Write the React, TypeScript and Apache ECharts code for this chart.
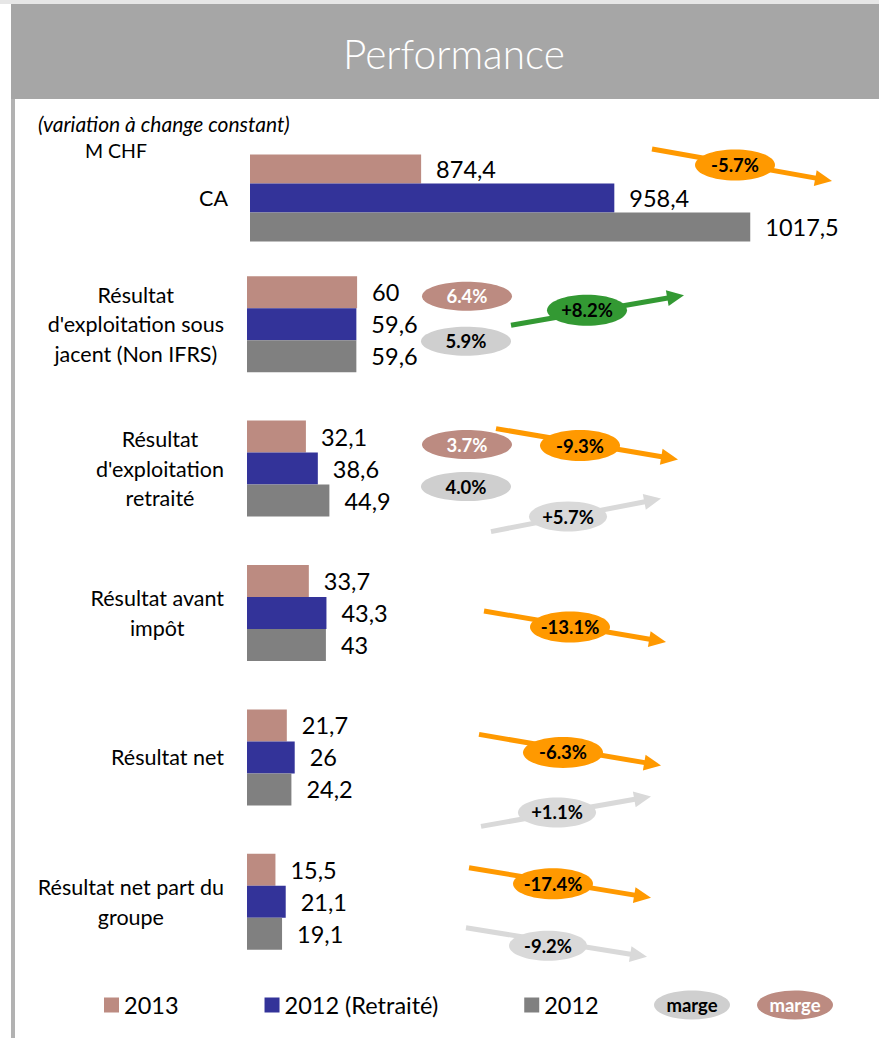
import React, { useEffect, useRef } from "react";
import * as echarts from "echarts";

// ---------- data ----------
const categoriesTop = ["CA"];
const categories = [
  "Résultat\nd'exploitation sous\njacent (Non IFRS)",
  "Résultat\nd'exploitation\nretraité",
  "Résultat avant\nimpôt",
  "Résultat net",
  "Résultat net part du\ngroupe",
];
const seriesNames = ["2013", "2012 (Retraité)", "2012"];
const caValues = [874.4, 958.4, 1017.5];
const values2013 = [60, 32.1, 33.7, 21.7, 15.5];
const values2012R = [59.6, 38.6, 43.3, 26, 21.1];
const values2012 = [59.6, 44.9, 43, 24.2, 19.1];
// index 0 = CA, then the five categories
const variationMain = ["-5.7%", "+8.2%", "-9.3%", "-13.1%", "-6.3%", "-17.4%"];
const variationOld: (string | null)[] = [null, null, "+5.7%", null, "+1.1%", "-9.2%"];
const marge2013: (string | null)[] = [null, "6.4%", "3.7%", null, null, null];
const marge2012: (string | null)[] = [null, "5.9%", "4.0%", null, null, null];
const margeLegend = "marge";
const titleText = "Performance";
const subtitleText = "(variation à change constant)";
const unitText = "M CHF";

// ---------- layout (annotation positions relative to each row centre) ----------
// [x0, dy0, x1, dy1, ellipseX, ellipseDy]
const mainArrowLayout = [
  [652, -49, 832, -17, 735, -33],
  [511, 1, 684, -29, 587, -14],
  [496, -40, 678, -9, 580, -23],
  [484, -2, 666, 29, 570, 14],
  [479, -23, 661, 8, 563, -5],
  [469, -34, 651, -4, 553, -18],
];
const oldArrowLayout = [
  null,
  null,
  [491, 63, 661, 30, 568, 48],
  null,
  [481, 69, 651, 39, 557, 55],
  [466, 26, 647, 55, 548, 44],
];
const margeX = 467;
const marge2013Dy = [0, -28, -24, 0, 0, 0];
const marge2012Dy = [0, 17, 18, 0, 0, 0];

const COLORS = ["#BC8B81", "#333399", "#808080"];
const ORANGE = "#FF9900";
const GREEN = "#339933";
const LIGHT = "#D9D9D9";
const MARGE_GRAY = "#CFCFCF";
const FONT = "Lato";

function fmt(v: number) {
  return String(v).replace(".", ",");
}

function arrow(x0: number, y0: number, x1: number, y1: number, color: string, z: number) {
  const dx = x1 - x0;
  const dy = y1 - y0;
  const L = Math.hypot(dx, dy);
  const ux = dx / L;
  const uy = dy / L;
  const hl = 17;
  const hw = 8;
  const bx = x1 - ux * hl;
  const by = y1 - uy * hl;
  const px = -uy;
  const py = ux;
  return [
    {
      type: "line",
      shape: { x1: x0, y1: y0, x2: bx + ux * 2, y2: by + uy * 2 },
      style: { stroke: color, lineWidth: 5 },
      z,
    },
    {
      type: "polygon",
      shape: {
        points: [
          [x1, y1],
          [bx + px * hw, by + py * hw],
          [bx - px * hw, by - py * hw],
        ],
      },
      style: { fill: color },
      z,
    },
  ];
}

function bubble(cx: number, cy: number, rx: number, ry: number, fill: string, text: string, color: string, z: number) {
  return [
    { type: "ellipse", shape: { cx, cy, rx, ry }, style: { fill }, z },
    {
      type: "text",
      x: cx,
      y: cy,
      style: {
        text,
        fill: color,
        fontSize: 18.5,
        fontWeight: "bold",
        fontFamily: FONT,
        align: "center",
        verticalAlign: "middle",
      },
      z: z + 1,
    },
  ];
}

export default function App() {
  const ref = useRef<HTMLDivElement>(null);

  useEffect(() => {
    if (!ref.current) return;
    const chart = echarts.init(ref.current, null, { renderer: "svg" });

    const labelCfg = {
      show: true,
      position: "right",
      distance: 15,
      fontSize: 23.5,
      fontFamily: FONT,
      color: "#000",
      formatter: (p: any) => fmt(p.value),
    };
    const yLabel = (margin: number) => ({
      margin,
      interval: 0,
      formatter: (v: string) =>
        v
          .split("\n")
          .map((l) => `{c|${l}}`)
          .join("\n"),
      rich: {
        c: { align: "center", fontSize: 21.5, lineHeight: 29.5, fontFamily: FONT, color: "#000" },
      },
    });

    const topVals = [caValues];
    const rowSets = [values2013, values2012R, values2012];

    const series: any[] = [];
    seriesNames.forEach((name, i) => {
      series.push({
        type: "bar",
        name,
        xAxisIndex: 0,
        yAxisIndex: 0,
        data: [topVals[0][i]],
        barWidth: 29,
        barGap: "0%",
        itemStyle: { color: COLORS[i] },
        label: labelCfg,
      });
    });
    seriesNames.forEach((name, i) => {
      series.push({
        type: "bar",
        name,
        xAxisIndex: 1,
        yAxisIndex: 1,
        data: rowSets[i],
        barWidth: 32,
        barGap: "0%",
        itemStyle: { color: COLORS[i] },
        label: labelCfg,
      });
    });

    chart.setOption({
      animation: false,
      backgroundColor: "#fff",
      title: {
        text: titleText,
        left: 343,
        top: 33,
        padding: 0,
        textStyle: { color: "#fff", fontSize: 40.5, fontWeight: 300, fontFamily: FONT },
      },
      legend: {
        data: seriesNames,
        left: 104,
        top: 993,
        padding: 0,
        itemWidth: 15,
        itemHeight: 15,
        itemGap: 86,
        icon: "rect",
        selectedMode: false,
        textStyle: { fontSize: 23.5, fontFamily: FONT, color: "#000" },
      },
      grid: [
        { left: 250, top: 140, width: 598, height: 116, containLabel: false },
        { left: 247, top: 252, width: 183.5, height: 722, containLabel: false },
      ],
      xAxis: [
        { gridIndex: 0, type: "value", min: 800, max: 1060, show: false },
        { gridIndex: 1, type: "value", min: 0, max: 100, show: false },
      ],
      yAxis: [
        {
          gridIndex: 0,
          type: "category",
          data: categoriesTop,
          inverse: true,
          axisLine: { show: false },
          axisTick: { show: false },
          axisLabel: yLabel(22),
        },
        {
          gridIndex: 1,
          type: "category",
          data: categories,
          inverse: true,
          axisLine: { show: false },
          axisTick: { show: false },
          axisLabel: yLabel(23),
        },
      ],
      series,
    });

    const rowY = (i: number): number => {
      if (i === 0) return chart.convertToPixel({ yAxisIndex: 0 }, categoriesTop[0]) as number;
      return chart.convertToPixel({ yAxisIndex: 1 }, categories[i - 1]) as number;
    };

    const els: any[] = [
      { type: "rect", shape: { x: 0, y: 0, width: 879, height: 4 }, style: { fill: "#E6E6E6" }, z: 0 },
      { type: "rect", shape: { x: 11, y: 4, width: 868, height: 95 }, style: { fill: "#A6A6A6" }, z: 0 },
      { type: "rect", shape: { x: 11, y: 99, width: 4, height: 939 }, style: { fill: "#B2B2B2" }, z: 0 },
      {
        type: "text",
        x: 38,
        y: 123,
        style: {
          text: subtitleText,
          fill: "#000",
          fontSize: 21,
          fontStyle: "italic",
          fontFamily: FONT,
          verticalAlign: "middle",
        },
      },
      {
        type: "text",
        x: 85,
        y: 150,
        style: { text: unitText, fill: "#000", fontSize: 19.5, fontFamily: FONT, verticalAlign: "middle" },
      },
    ];

    variationMain.forEach((t, i) => {
      const L = mainArrowLayout[i];
      const yc = rowY(i);
      const col = t.startsWith("+") ? GREEN : ORANGE;
      els.push(...arrow(L[0], yc + L[1], L[2], yc + L[3], col, 10));
      els.push(...bubble(L[4], yc + L[5], 40, 15.5, col, t, "#000", 12));
    });
    variationOld.forEach((t, i) => {
      const L = oldArrowLayout[i];
      if (!t || !L) return;
      const yc = rowY(i);
      els.push(...arrow(L[0], yc + L[1], L[2], yc + L[3], LIGHT, 10));
      els.push(...bubble(L[4], yc + L[5], 39, 15, LIGHT, t, "#000", 12));
    });
    marge2013.forEach((t, i) => {
      if (!t) return;
      const yc = rowY(i);
      els.push(...bubble(margeX, yc + marge2013Dy[i], 45, 14.5, COLORS[0], t, "#fff", 12));
    });
    marge2012.forEach((t, i) => {
      if (!t) return;
      const yc = rowY(i);
      els.push(...bubble(margeX - 1, yc + marge2012Dy[i], 45, 14.5, MARGE_GRAY, t, "#000", 12));
    });
    // legend for the margin bubbles
    els.push(...bubble(692, 1005, 38, 14.5, MARGE_GRAY, margeLegend, "#000", 12));
    els.push(...bubble(795, 1005, 38, 14.5, COLORS[0], margeLegend, "#fff", 12));

    chart.setOption({ graphic: { elements: els } });

    return () => chart.dispose();
  }, []);

  return (
    <div
      ref={ref}
      style={{ position: "fixed", left: 0, top: 0, width: 879, height: 1038, background: "#fff" }}
    />
  );
}
